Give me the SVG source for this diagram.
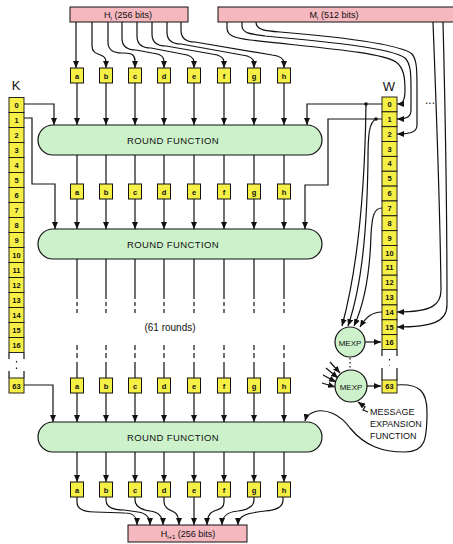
<svg xmlns="http://www.w3.org/2000/svg" width="453" height="544" viewBox="0 0 453 544">
<style>
.ln{fill:none;stroke:#111;stroke-width:1.2}
.ar{fill:none;stroke:#111;stroke-width:1.2;marker-end:url(#ah)}
.reg{fill:#f6ef45;stroke:#111;stroke-width:1}
.cell{fill:#f6ef45;stroke:#111;stroke-width:0.9}
.pink{fill:#f5b8bf;stroke:#111;stroke-width:1}
.rf{fill:#cdf2cb;stroke:#111;stroke-width:1.2}
.t{font-family:"Liberation Sans",Arial,sans-serif;fill:#111;text-anchor:middle}
.lt{font-size:10px}
.ct{font-size:7.5px;font-weight:bold}
.hd{font-size:9px}
.rt{font-size:9.5px;letter-spacing:0.4px}
</style>
<defs>
<marker id="ah" markerWidth="7" markerHeight="6" refX="7" refY="3" orient="auto" markerUnits="userSpaceOnUse"><path d="M0,0 L7,3 L0,6 z" fill="#111"/></marker>
</defs>
<rect width="453" height="544" fill="#fff"/>

<g id="connectors">
<!-- Hi to row1 -->
<path class="ar" d="M76,22 V68"/>
<path class="ar" d="M92,22 V46 C92,57 106,52 106,62 V68"/>
<path class="ar" d="M108,22 V42 C108,51 114,53 122,53 L124,53 C132,53 135,55 135,61 V68"/>
<path class="ar" d="M122,22 V38 C122,47 128,50 136,50 L152,53 C160,54 164,56 164,62 V68"/>
<path class="ar" d="M137,22 V36 C137,45 143,48 151,48 L182,54 C190,55 194,57 194,62 V68"/>
<path class="ar" d="M152,22 V34 C152,43 158,46 166,46 L212,54 C220,55 224,57 224,62 V68"/>
<path class="ar" d="M167,22 V32 C167,41 173,44 181,44 L242,55 C250,56 254,58 254,63 V68"/>
<path class="ar" d="M181,22 V30 C181,39 187,42 195,42 L272,55 C280,56 284,58 284,63 V68"/>
<!-- Mi to W0..2 -->
<path class="ar" d="M227,22 V28 C227,36 235,38 250,40 C320,48 380,52 396,62 C404,68 405,78 405,90 C405,100 403,104 397,104"/>
<path class="ar" d="M242,22 V26 C242,33 250,34 265,36 C330,42 392,48 405,58 C411,64 411,74 411,90 L411,110 C411,116 408,119 397,119"/>
<path class="ar" d="M256,22 C256,30 265,31 280,32 C340,37 400,44 412,54 C417,60 417,70 417,90 L417,125 C417,131 413,134 397,134"/>
<!-- Mi to W14, W15 -->
<path class="ar" d="M433,22 C436,100 440,200 441,290 C441,305 432,312 397,312"/>
<path class="ar" d="M443,22 C445,100 447,200 447,305 C447,322 432,327 397,327"/>
<!-- row1 to round1 -->
<path class="ar" d="M77,83 V125"/><path class="ar" d="M106,83 V125"/><path class="ar" d="M135,83 V125"/><path class="ar" d="M164,83 V125"/>
<path class="ar" d="M194,83 V125"/><path class="ar" d="M224,83 V125"/><path class="ar" d="M254,83 V125"/><path class="ar" d="M284,83 V125"/>
<!-- K and W into round 1 / 2 / 3 -->
<path class="ar" d="M24,104 H54 V125"/>
<path class="ar" d="M24,118 H32 V184 H55 V229"/>
<path class="ar" d="M24,385 H53 V422"/>
<path class="ar" d="M382,104 H307 V125"/>
<path class="ar" d="M382,119 H328 V185 H305 V229"/>
<circle cx="366" cy="104" r="1.8" fill="#111"/>
<circle cx="376" cy="119" r="1.8" fill="#111"/>
<!-- round1 to row2 -->
<path class="ln" d="M77,155 V184 M106,155 V184 M135,155 V184 M164,155 V184 M194,155 V184 M224,155 V184 M254,155 V184 M284,155 V184"/>
<!-- row2 to round2 -->
<path class="ar" d="M77,199 V229"/><path class="ar" d="M106,199 V229"/><path class="ar" d="M135,199 V229"/><path class="ar" d="M164,199 V229"/>
<path class="ar" d="M194,199 V229"/><path class="ar" d="M224,199 V229"/><path class="ar" d="M254,199 V229"/><path class="ar" d="M284,199 V229"/>
<!-- round2 down, dashed -->
<path class="ln" d="M77,259 V299 M106,259 V299 M135,259 V299 M164,259 V299 M194,259 V299 M224,259 V299 M254,259 V299 M284,259 V299"/>
<path class="ln" d="M77,302 V306 M106,302 V306 M135,302 V306 M164,302 V306 M194,302 V306 M224,302 V306 M254,302 V306 M284,302 V306"/>
<path class="ln" d="M77,309 V313 M106,309 V313 M135,309 V313 M164,309 V313 M194,309 V313 M224,309 V313 M254,309 V313 M284,309 V313"/>
<path class="ln" d="M77,345 V350 M106,345 V350 M135,345 V350 M164,345 V350 M194,345 V350 M224,345 V350 M254,345 V350 M284,345 V350"/>
<path class="ln" d="M77,353 V358 M106,353 V358 M135,353 V358 M164,353 V358 M194,353 V358 M224,353 V358 M254,353 V358 M284,353 V358"/>
<path class="ln" d="M77,362 V378 M106,362 V378 M135,362 V378 M164,362 V378 M194,362 V378 M224,362 V378 M254,362 V378 M284,362 V378"/>
<!-- row3 to round3 -->
<path class="ar" d="M77,393 V422"/><path class="ar" d="M106,393 V422"/><path class="ar" d="M135,393 V422"/><path class="ar" d="M164,393 V422"/>
<path class="ar" d="M194,393 V422"/><path class="ar" d="M224,393 V422"/><path class="ar" d="M254,393 V422"/><path class="ar" d="M284,393 V422"/>
<!-- round3 to row4 -->
<path class="ar" d="M77,452 V482"/><path class="ar" d="M106,452 V482"/><path class="ar" d="M135,452 V482"/><path class="ar" d="M164,452 V482"/>
<path class="ar" d="M194,452 V482"/><path class="ar" d="M224,452 V482"/><path class="ar" d="M254,452 V482"/><path class="ar" d="M284,452 V482"/>
<!-- row4 to Hi+1 -->
<path class="ar" d="M77,497 V502 C77,510 85,512 95,512 L125,513 C133,513 137,516 137,525"/>
<path class="ar" d="M106,497 V500 C106,508 114,510 124,510 L138,512 C146,513 150,517 150,525"/>
<path class="ar" d="M135,497 V500 C135,508 143,510 150,511 C158,512 163,516 163,525"/>
<path class="ar" d="M164,497 V502 C164,508 170,510 174,512 C178,514 179,518 179,525"/>
<path class="ar" d="M194,497 V525"/>
<path class="ar" d="M224,497 V502 C224,508 220,509 214,511 C209,513 207,517 207,525"/>
<path class="ar" d="M254,497 V500 C254,508 246,510 238,511 C227,512 222,516 222,525"/>
<path class="ar" d="M283,497 V500 C283,508 275,510 265,511 C248,513 238,515 238,525"/>
<!-- W lines into MEXP1 -->
<path class="ar" d="M366,104 C365,180 360,260 342,326"/>
<path class="ar" d="M376,119 C369,122 368,135 368,160 C367,230 362,285 348,326"/>
<path class="ar" d="M382,208 C374,208 372,216 371,235 C370,270 366,300 354,326"/>
<path class="ar" d="M382,312 C372,312 366,317 360,327"/>
<!-- MEXP outputs -->
<path class="ar" d="M365,342 H381"/>
<path class="ar" d="M367,386 H381"/>
<path class="ln" d="M350,358 V370" stroke-dasharray="1.5,2.5"/>
<!-- inputs into MEXP2 -->
<path class="ar" d="M330,362 L340,373"/>
<path class="ar" d="M326,368 L338,378"/>
<path class="ar" d="M323,375 L336,382"/>
<path class="ar" d="M322,383 L335,387"/>
<!-- loop W63 to round3 -->
<path class="ar" d="M396,385 C420,383 427,392 427,412 C427,440 425,452 405,452 C382,452 365,446 350,428 C340,414 325,408 314,412 C308,414 306,417 305,421"/>
<!-- label pointer -->
<path class="ar" d="M368,412 L363,410 L365,407 L358,402"/>
</g>

<g id="Hi"><rect class="pink" x="70" y="7" width="118" height="15"/><text class="t hd" x="128" y="18">H<tspan font-size="6" dy="2">i</tspan><tspan dy="-2">  (256 bits)</tspan></text></g>
<g id="Mi"><rect class="pink" x="218" y="7" width="240" height="15"/><text class="t hd" x="334" y="18">M<tspan font-size="6" dy="2">i</tspan><tspan dy="-2">  (512 bits)</tspan></text></g>
<g id="Hnext"><rect class="pink" x="128" y="525" width="119" height="17"/><text class="t hd" x="188" y="537">H<tspan font-size="6" dy="2">i+1</tspan><tspan dy="-2">  (256 bits)</tspan></text></g>

<g id="row1">
<rect class="reg" x="70.5" y="68" width="13" height="15"/><text class="t ct" x="77" y="78.5">a</text>
<rect class="reg" x="99.5" y="68" width="13" height="15"/><text class="t ct" x="106" y="78.5">b</text>
<rect class="reg" x="128.5" y="68" width="13" height="15"/><text class="t ct" x="135" y="78.5">c</text>
<rect class="reg" x="157.5" y="68" width="13" height="15"/><text class="t ct" x="164" y="78.5">d</text>
<rect class="reg" x="187.5" y="68" width="13" height="15"/><text class="t ct" x="194" y="78.5">e</text>
<rect class="reg" x="217.5" y="68" width="13" height="15"/><text class="t ct" x="224" y="78.5">f</text>
<rect class="reg" x="247.5" y="68" width="13" height="15"/><text class="t ct" x="254" y="78.5">g</text>
<rect class="reg" x="277.5" y="68" width="13" height="15"/><text class="t ct" x="284" y="78.5">h</text>
</g>
<g id="row2">
<rect class="reg" x="70.5" y="184" width="13" height="15"/><text class="t ct" x="77" y="194.5">a</text>
<rect class="reg" x="99.5" y="184" width="13" height="15"/><text class="t ct" x="106" y="194.5">b</text>
<rect class="reg" x="128.5" y="184" width="13" height="15"/><text class="t ct" x="135" y="194.5">c</text>
<rect class="reg" x="157.5" y="184" width="13" height="15"/><text class="t ct" x="164" y="194.5">d</text>
<rect class="reg" x="187.5" y="184" width="13" height="15"/><text class="t ct" x="194" y="194.5">e</text>
<rect class="reg" x="217.5" y="184" width="13" height="15"/><text class="t ct" x="224" y="194.5">f</text>
<rect class="reg" x="247.5" y="184" width="13" height="15"/><text class="t ct" x="254" y="194.5">g</text>
<rect class="reg" x="277.5" y="184" width="13" height="15"/><text class="t ct" x="284" y="194.5">h</text>
</g>
<g id="row3">
<rect class="reg" x="70.5" y="378" width="13" height="15"/><text class="t ct" x="77" y="388.5">a</text>
<rect class="reg" x="99.5" y="378" width="13" height="15"/><text class="t ct" x="106" y="388.5">b</text>
<rect class="reg" x="128.5" y="378" width="13" height="15"/><text class="t ct" x="135" y="388.5">c</text>
<rect class="reg" x="157.5" y="378" width="13" height="15"/><text class="t ct" x="164" y="388.5">d</text>
<rect class="reg" x="187.5" y="378" width="13" height="15"/><text class="t ct" x="194" y="388.5">e</text>
<rect class="reg" x="217.5" y="378" width="13" height="15"/><text class="t ct" x="224" y="388.5">f</text>
<rect class="reg" x="247.5" y="378" width="13" height="15"/><text class="t ct" x="254" y="388.5">g</text>
<rect class="reg" x="277.5" y="378" width="13" height="15"/><text class="t ct" x="284" y="388.5">h</text>
</g>
<g id="row4">
<rect class="reg" x="70.5" y="482" width="13" height="15"/><text class="t ct" x="77" y="492.5">a</text>
<rect class="reg" x="99.5" y="482" width="13" height="15"/><text class="t ct" x="106" y="492.5">b</text>
<rect class="reg" x="128.5" y="482" width="13" height="15"/><text class="t ct" x="135" y="492.5">c</text>
<rect class="reg" x="157.5" y="482" width="13" height="15"/><text class="t ct" x="164" y="492.5">d</text>
<rect class="reg" x="187.5" y="482" width="13" height="15"/><text class="t ct" x="194" y="492.5">e</text>
<rect class="reg" x="217.5" y="482" width="13" height="15"/><text class="t ct" x="224" y="492.5">f</text>
<rect class="reg" x="247.5" y="482" width="13" height="15"/><text class="t ct" x="254" y="492.5">g</text>
<rect class="reg" x="277.5" y="482" width="13" height="15"/><text class="t ct" x="284" y="492.5">h</text>
</g>

<g id="round1"><rect class="rf" x="38" y="125" width="284" height="30" rx="15"/><text class="t rt" x="173" y="144">ROUND  FUNCTION</text></g>
<g id="round2"><rect class="rf" x="38" y="229" width="284" height="30" rx="15"/><text class="t rt" x="173" y="248">ROUND  FUNCTION</text></g>
<g id="round3"><rect class="rf" x="38" y="422" width="284" height="30" rx="15"/><text class="t rt" x="173" y="441">ROUND  FUNCTION</text></g>
<text class="t" x="170" y="331" font-size="10">(61 rounds)</text>

<g id="K">
<text class="t" x="16" y="90" font-size="13">K</text>
<g class="cell">
<rect x="9" y="97.5" width="15" height="15"/><rect x="9" y="112.5" width="15" height="15"/><rect x="9" y="127.5" width="15" height="15"/><rect x="9" y="142.5" width="15" height="15"/>
<rect x="9" y="157.5" width="15" height="15"/><rect x="9" y="172.5" width="15" height="15"/><rect x="9" y="187.5" width="15" height="15"/><rect x="9" y="202.5" width="15" height="15"/>
<rect x="9" y="217.5" width="15" height="15"/><rect x="9" y="232.5" width="15" height="15"/><rect x="9" y="247.5" width="15" height="15"/><rect x="9" y="262.5" width="15" height="15"/>
<rect x="9" y="277.5" width="15" height="15"/><rect x="9" y="292.5" width="15" height="15"/><rect x="9" y="307.5" width="15" height="15"/><rect x="9" y="322.5" width="15" height="15"/>
<rect x="9" y="337.5" width="15" height="15"/><rect x="9" y="378" width="15" height="15"/>
</g>
<path class="ln" d="M9,352.5 V359 M24,352.5 V359 M9,371 V378 M24,371 V378" stroke-width="1"/>
<path class="ln" d="M16.5,361 V370" stroke-dasharray="1.5,5"/>
<g class="t ct">
<text x="16.5" y="108">0</text><text x="16.5" y="123">1</text><text x="16.5" y="138">2</text><text x="16.5" y="153">3</text>
<text x="16.5" y="168">4</text><text x="16.5" y="183">5</text><text x="16.5" y="198">6</text><text x="16.5" y="213">7</text>
<text x="16.5" y="228">8</text><text x="16.5" y="243">9</text><text x="16.5" y="258">10</text><text x="16.5" y="273">11</text>
<text x="16.5" y="288">12</text><text x="16.5" y="303">13</text><text x="16.5" y="318">14</text><text x="16.5" y="333">15</text>
<text x="16.5" y="348">16</text><text x="16.5" y="388.5">63</text>
</g>
</g>

<g id="W">
<text class="t" x="389" y="91" font-size="13">W</text>
<g class="cell">
<rect x="382" y="97" width="15" height="14.85"/><rect x="382" y="111.85" width="15" height="14.85"/><rect x="382" y="126.7" width="15" height="14.85"/><rect x="382" y="141.55" width="15" height="14.85"/>
<rect x="382" y="156.4" width="15" height="14.85"/><rect x="382" y="171.25" width="15" height="14.85"/><rect x="382" y="186.1" width="15" height="14.85"/><rect x="382" y="200.95" width="15" height="14.85"/>
<rect x="382" y="215.8" width="15" height="14.85"/><rect x="382" y="230.65" width="15" height="14.85"/><rect x="382" y="245.5" width="15" height="14.85"/><rect x="382" y="260.35" width="15" height="14.85"/>
<rect x="382" y="275.2" width="15" height="14.85"/><rect x="382" y="290.05" width="15" height="14.85"/><rect x="382" y="304.9" width="15" height="14.85"/><rect x="382" y="319.75" width="15" height="14.85"/>
<rect x="382" y="334.6" width="15" height="14.85"/><rect x="382" y="380" width="15" height="13"/>
</g>
<path class="ln" d="M382,349.5 V356 M397,349.5 V356 M382,368 V380 M397,368 V380" stroke-width="1"/>
<path class="ln" d="M389.5,359 V366" stroke-dasharray="1.5,5"/>
<g class="t ct">
<text x="389.5" y="107">0</text><text x="389.5" y="121.8">1</text><text x="389.5" y="136.7">2</text><text x="389.5" y="151.5">3</text>
<text x="389.5" y="166.4">4</text><text x="389.5" y="181.2">5</text><text x="389.5" y="196.1">6</text><text x="389.5" y="211">7</text>
<text x="389.5" y="225.8">8</text><text x="389.5" y="240.7">9</text><text x="389.5" y="255.5">10</text><text x="389.5" y="270.4">11</text>
<text x="389.5" y="285.2">12</text><text x="389.5" y="300.1">13</text><text x="389.5" y="314.9">14</text><text x="389.5" y="329.8">15</text>
<text x="389.5" y="344.6">16</text><text x="389.5" y="389">63</text>
</g>
<text class="t" x="430" y="104" font-size="12">...</text>
</g>

<g id="mexp1"><circle cx="350" cy="342" r="15" fill="#cdf2cb" stroke="#111" stroke-width="1.2"/><text class="t" x="350" y="345.5" font-size="8">MEXP</text></g>
<g id="mexp2"><circle cx="351" cy="386" r="16" fill="#cdf2cb" stroke="#111" stroke-width="1.2"/><text class="t" x="351" y="389.5" font-size="8">MEXP</text></g>
<g id="mexp-label" class="t" font-size="9" text-anchor="start">
<text x="370" y="415" text-anchor="start">MESSAGE</text>
<text x="370" y="427" text-anchor="start">EXPANSION</text>
<text x="370" y="439" text-anchor="start">FUNCTION</text>
</g>
</svg>
